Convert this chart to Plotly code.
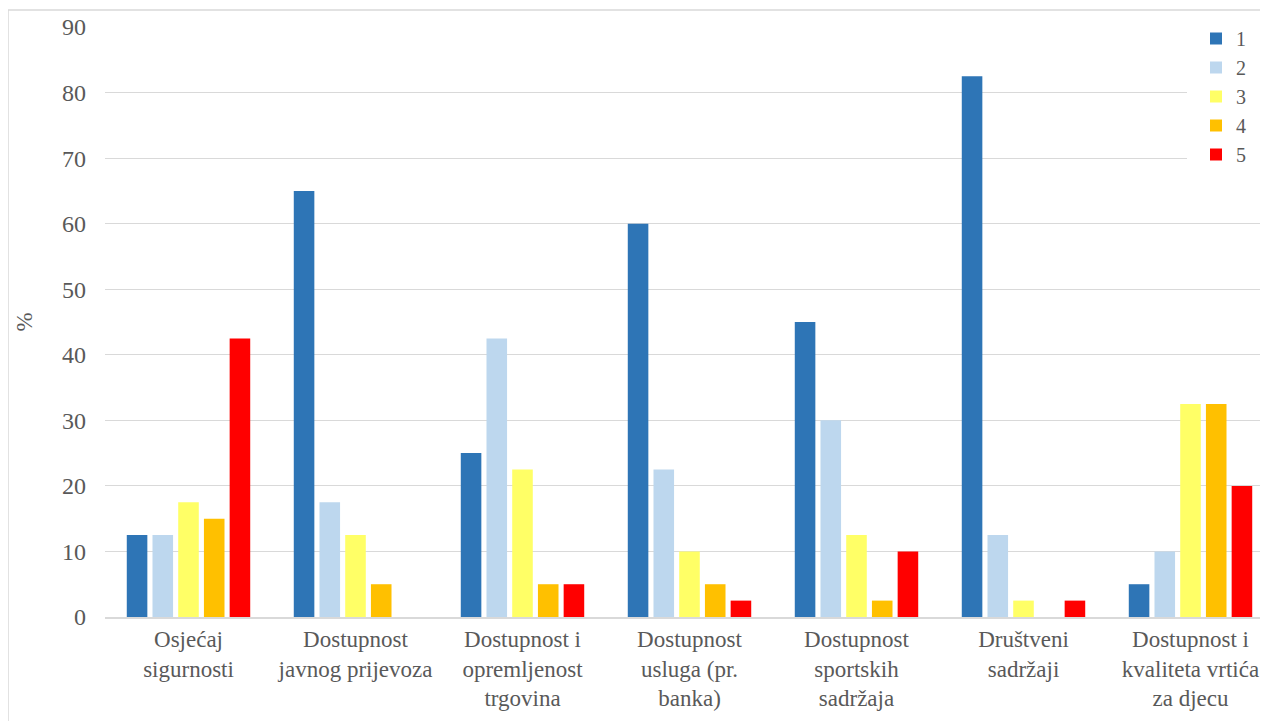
import plotly.graph_objects as go

categories = ["Osjećaj<br>sigurnosti", "Dostupnost<br>javnog prijevoza", "Dostupnost i<br>opremljenost<br>trgovina",
              "Dostupnost<br>usluga (pr.<br>banka)", "Dostupnost<br>sportskih<br>sadržaja", "Društveni<br>sadržaji",
              "Dostupnost i<br>kvaliteta vrtića<br>za djecu"]
series_names = ["1", "2", "3", "4", "5"]
s1 = [12.5, 65, 25, 60, 45, 82.5, 5]
s2 = [12.5, 17.5, 42.5, 22.5, 30, 12.5, 10]
s3 = [17.5, 12.5, 22.5, 10, 12.5, 2.5, 32.5]
s4 = [15, 5, 5, 5, 2.5, 0, 32.5]
s5 = [42.5, 0, 5, 2.5, 10, 2.5, 20]
colors = ["#2E75B6", "#BDD7EE", "#FFFF66", "#FFC000", "#FF0000"]

FONT = "Liberation Serif, Times New Roman, serif"
GREY = "#595959"

fig = go.Figure()
for name, vals, c in zip(series_names, [s1, s2, s3, s4, s5], colors):
    fig.add_trace(go.Bar(x=list(range(len(categories))), y=vals, name=name, marker_color=c, marker_line_width=0))

# page has an 8px body offset
OFF = 8
W, H = 1268, 721
ml, mr, mt, mb = 97, 2, 19, 112
pw = W - ml - mr
ph = H - mt - mb
left_px = OFF + ml
bottom_px = OFF + H - mb


def px_x(p):
    return (p - left_px) / pw


def px_y(p):
    return (bottom_px - p) / ph


fig.update_layout(
    width=W, height=H,
    margin=dict(l=ml, r=mr, t=mt, b=mb),
    paper_bgcolor="white", plot_bgcolor="white",
    barmode="group", bargap=0.23, bargroupgap=0.2,
    font=dict(family=FONT, size=24, color=GREY),
    legend=dict(x=px_x(1196), y=px_y(19), xanchor="left", yanchor="top", bgcolor="white",
                font=dict(family=FONT, size=20, color=GREY), tracegroupgap=0, itemwidth=30),
    showlegend=True,
)
fig.update_xaxes(tickmode="array", tickvals=list(range(len(categories))), ticktext=categories,
                 range=[-0.5, 6.5], showgrid=False, showline=True, linecolor="#d9d9d9", linewidth=2,
                 ticks="", tickfont=dict(family=FONT, size=23, color=GREY))
fig.update_yaxes(range=[0, 90], dtick=10, showgrid=True, gridcolor="#d9d9d9", gridwidth=1.3,
                 zeroline=False, ticks="", ticklabelstandoff=18,
                 title=dict(text="%", font=dict(family=FONT, size=23, color=GREY), standoff=22),
                 tickfont=dict(family=FONT, size=24, color=GREY))

# white area behind the legend hiding gridlines
fig.add_shape(type="rect", xref="paper", yref="paper", x0=px_x(1187), x1=px_x(1290), y0=px_y(166), y1=px_y(16),
              line=dict(width=0), fillcolor="white", layer="above")
# chart border
fig.add_shape(type="rect", xref="paper", yref="paper", x0=px_x(8), x1=px_x(1290), y0=px_y(760), y1=px_y(10),
              line=dict(color="#d9d9d9", width=1.5), fillcolor="rgba(0,0,0,0)", layer="above")

fig.write_html("out.html")
